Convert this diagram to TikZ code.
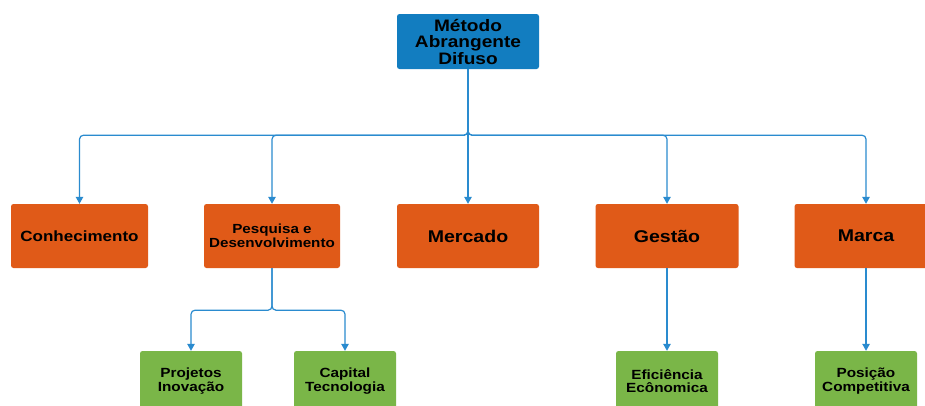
\documentclass[tikz,border=0pt]{standalone}
\usepackage{fontspec}
\newfontfamily\labfont{Liberation Sans}[FakeStretch=1.15]
\usetikzlibrary{arrows.meta}
\definecolor{topblue}{HTML}{127DC0}
\definecolor{catorange}{HTML}{E05A18}
\definecolor{leafgreen}{HTML}{7AB648}
\definecolor{linkblue}{HTML}{2A8BCF}
\tikzset{
  box/.style={rounded corners=2.5pt, align=center, inner sep=0pt,
    font=\labfont\bfseries, text=black},
  rootbox/.style={box, fill=topblue, minimum width=142pt, minimum height=55pt},
  catbox/.style={box, fill=catorange, minimum width=137pt, minimum height=64pt},
  leafbox/.style={box, fill=leafgreen, minimum width=102pt, minimum height=60pt},
  conn/.style={draw=linkblue, line width=1.2pt, rounded corners=4pt,
    -{Triangle[width=7.5pt,length=7pt]}},
}
\begin{document}
\begin{tikzpicture}[x=1pt,y=-1pt]
\clip (0,0) rectangle (925,405);
\fill[white] (0,0) rectangle (925,405);

% root
\node[rootbox, font=\labfont\bfseries\fontsize{16.6}{16.5}\selectfont] (root) at (468,41.5)
  {Método\\Abrangente\\Difuso};

% categories
\node[catbox, minimum width=137pt, font=\labfont\bfseries\fontsize{14.8}{16}\selectfont] (con) at (79.5,236) {Conhecimento};
\node[catbox, minimum width=136pt, font=\labfont\bfseries\fontsize{13.2}{13.6}\selectfont] (ped) at (272,236) {Pesquisa e\\Desenvolvimento};
\node[catbox, minimum width=142pt, font=\labfont\bfseries\fontsize{17}{18}\selectfont] (mer) at (468,236) {Mercado};
\node[catbox, minimum width=143pt, font=\labfont\bfseries\fontsize{17}{18}\selectfont] (ges) at (667,236) {Gestão};
\node[catbox, minimum width=143pt, font=\labfont\bfseries\fontsize{17}{18}\selectfont] (mar) at (866,236) {Marca};

% leaves
\node[leafbox, font=\labfont\bfseries\fontsize{13.3}{13.6}\selectfont] (pin) at (191,381) {Projetos\\Inovação};
\node[leafbox, font=\labfont\bfseries\fontsize{13.3}{13.6}\selectfont] (cte) at (345,381) {Capital\\Tecnologia};
\node[leafbox, font=\labfont\bfseries\fontsize{13.3}{13.6}\selectfont] (efe) at (667,381) {Eficiência\\Ecônomica};
\node[leafbox, font=\labfont\bfseries\fontsize{13.3}{13.6}\selectfont] (pco) at (866,381) {Posição\\Competitiva};

% root to categories
\foreach \c in {con,ped,mer,ges,mar}
  \draw[conn] (root.south) -- ++(0,66) -| (\c.north);

% categories to leaves
\foreach \c in {pin,cte}
  \draw[conn] (ped.south) -- ++(0,42) -| (\c.north);
\draw[conn] (ges.south) -- (efe.north);
\draw[conn] (mar.south) -- (pco.north);
\end{tikzpicture}
\end{document}
